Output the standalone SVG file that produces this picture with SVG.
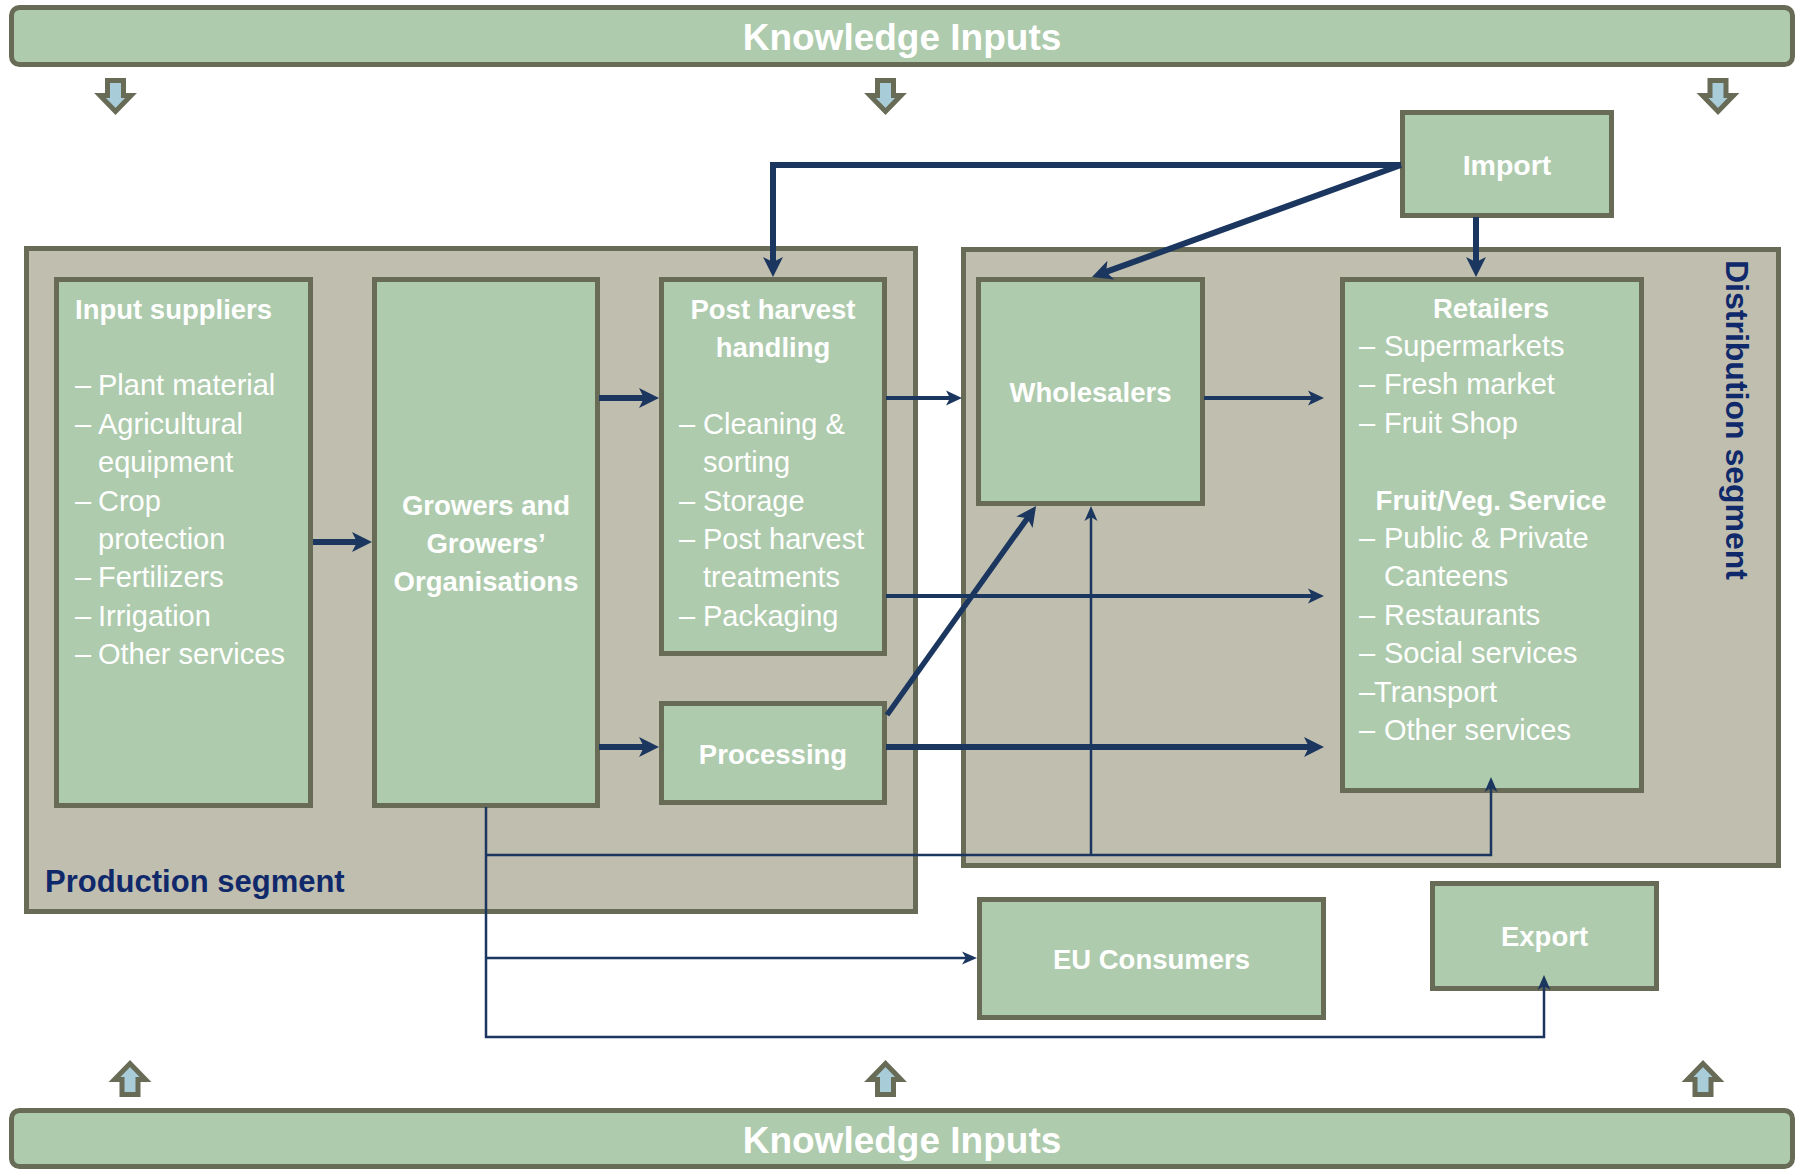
<svg xmlns="http://www.w3.org/2000/svg" width="1803" height="1169" viewBox="0 0 1803 1169">
  <style>
    .bar { fill:#aecbad; stroke:#686b55; stroke-width:5; }
    .seg { fill:#c0beae; stroke:#686b55; stroke-width:5; }
    .box { fill:#aecbad; stroke:#686b55; stroke-width:5; }
    .ka { fill:#a9cdd8; stroke:#686b55; stroke-width:5; stroke-linejoin:miter; }
    .t { font-family:"Liberation Sans", Arial, sans-serif; fill:#ffffff; }
    .b { font-weight:bold; font-size:27.5px; }
    .r { font-size:29px; }
    .c { text-anchor:middle; }
    .kt { font-family:"Liberation Sans", Arial, sans-serif; fill:#ffffff; font-weight:bold; font-size:37px; text-anchor:middle; }
    .lbl { font-family:"Liberation Sans", Arial, sans-serif; font-weight:bold; fill:#10296b; }
    .ln { fill:none; stroke:#1b365f; stroke-linejoin:miter; }
    .th { stroke-width:6; }
    .md { stroke-width:4; }
    .tn { stroke-width:2.5; }
    .ah { fill:#1b365f; }
  </style>
  <defs>
    <marker id="mL" markerUnits="userSpaceOnUse" orient="auto" overflow="visible" refX="0" refY="0" markerWidth="1" markerHeight="1">
      <path class="ah" d="M12,0 L-8,-10 L-3,0 L-8,10 Z"/>
    </marker>
    <marker id="mM" markerUnits="userSpaceOnUse" orient="auto" overflow="visible" refX="0" refY="0" markerWidth="1" markerHeight="1">
      <path class="ah" d="M10,0 L-6,-7.5 L-2,0 L-6,7.5 Z"/>
    </marker>
    <marker id="mS" markerUnits="userSpaceOnUse" orient="auto" overflow="visible" refX="0" refY="0" markerWidth="1" markerHeight="1">
      <path class="ah" d="M8,0 L-7,-6.5 L-3,0 L-7,6.5 Z"/>
    </marker>
    <path id="karrow" class="ka" d="M-8,0 H8 V15 H15.5 L0,31 L-15.5,15 H-8 Z"/>
  </defs>

  <rect width="1803" height="1169" fill="#ffffff"/>

  <!-- Knowledge input bars -->
  <g id="knowledge-top">
    <rect class="bar" x="11.5" y="7.5" width="1781" height="57" rx="8"/>
    <text class="kt" x="902" y="50">Knowledge Inputs</text>
  </g>
  <g id="knowledge-bottom">
    <rect class="bar" x="11.5" y="1110.5" width="1781" height="56" rx="8"/>
    <text class="kt" x="902" y="1153">Knowledge Inputs</text>
  </g>

  <!-- Knowledge arrows -->
  <g id="knowledge-arrows">
    <use href="#karrow" transform="translate(115.5,80.5)"/>
    <use href="#karrow" transform="translate(885.5,80.5)"/>
    <use href="#karrow" transform="translate(1718,80.5)"/>
    <use href="#karrow" transform="translate(130,1094.5) scale(1,-1)"/>
    <use href="#karrow" transform="translate(885.5,1094.5) scale(1,-1)"/>
    <use href="#karrow" transform="translate(1703,1094.5) scale(1,-1)"/>
  </g>

  <!-- Segments -->
  <g id="production-segment">
    <rect class="seg" x="26.5" y="248.5" width="889" height="663"/>
    <text class="lbl" x="45" y="892" font-size="31">Production segment</text>
  </g>
  <g id="distribution-segment">
    <rect class="seg" x="963.5" y="249.5" width="815" height="616"/>
    <text class="lbl" font-size="32" transform="translate(1726,260) rotate(90)">Distribution segment</text>
  </g>

  <!-- Nodes -->
  <g id="input-suppliers">
    <rect class="box" x="56.5" y="279.5" width="254" height="526"/>
    <text class="t b" x="75" y="318.5">Input suppliers</text>
    <g class="t r">
      <text x="75" y="395">–</text><text x="98" y="395">Plant material</text>
      <text x="75" y="433.5">–</text><text x="98" y="433.5">Agricultural</text>
      <text x="98" y="472">equipment</text>
      <text x="75" y="510.5">–</text><text x="98" y="510.5">Crop</text>
      <text x="98" y="549">protection</text>
      <text x="75" y="587">–</text><text x="98" y="587">Fertilizers</text>
      <text x="75" y="626">–</text><text x="98" y="626">Irrigation</text>
      <text x="75" y="664">–</text><text x="98" y="664">Other services</text>
    </g>
  </g>

  <g id="growers">
    <rect class="box" x="374.5" y="279.5" width="223" height="526"/>
    <g class="t b c">
      <text x="486" y="515">Growers and</text>
      <text x="486" y="553">Growers’</text>
      <text x="486" y="591">Organisations</text>
    </g>
  </g>

  <g id="post-harvest">
    <rect class="box" x="661.5" y="279.5" width="223" height="374"/>
    <g class="t b c">
      <text x="773" y="318.5">Post harvest</text>
      <text x="773" y="357">handling</text>
    </g>
    <g class="t r">
      <text x="679" y="433.5">–</text><text x="703" y="433.5">Cleaning &amp;</text>
      <text x="703" y="472">sorting</text>
      <text x="679" y="510.5">–</text><text x="703" y="510.5">Storage</text>
      <text x="679" y="549">–</text><text x="703" y="549">Post harvest</text>
      <text x="703" y="587">treatments</text>
      <text x="679" y="626">–</text><text x="703" y="626">Packaging</text>
    </g>
  </g>

  <g id="processing">
    <rect class="box" x="661.5" y="703.5" width="223" height="99"/>
    <text class="t b c" x="773" y="764">Processing</text>
  </g>

  <g id="wholesalers">
    <rect class="box" x="978.5" y="279.5" width="224" height="224"/>
    <text class="t b c" x="1090.5" y="402">Wholesalers</text>
  </g>

  <g id="retailers">
    <rect class="box" x="1342.5" y="279.5" width="299" height="511"/>
    <g class="t b c">
      <text x="1491" y="317.5">Retailers</text>
      <text x="1491" y="509.5">Fruit/Veg. Service</text>
    </g>
    <g class="t r">
      <text x="1359" y="356">–</text><text x="1384" y="356">Supermarkets</text>
      <text x="1359" y="394">–</text><text x="1384" y="394">Fresh market</text>
      <text x="1359" y="432.5">–</text><text x="1384" y="432.5">Fruit Shop</text>
      <text x="1359" y="548">–</text><text x="1384" y="548">Public &amp; Private</text>
      <text x="1384" y="586">Canteens</text>
      <text x="1359" y="625">–</text><text x="1384" y="625">Restaurants</text>
      <text x="1359" y="663">–</text><text x="1384" y="663">Social services</text>
      <text x="1359" y="701.5">–</text><text x="1374" y="701.5">Transport</text>
      <text x="1359" y="740">–</text><text x="1384" y="740">Other services</text>
    </g>
  </g>

  <g id="import">
    <rect class="box" x="1402.5" y="112.5" width="209" height="103"/>
    <text class="t c" x="1507" y="175" font-weight="bold" font-size="28.5">Import</text>
  </g>

  <g id="eu-consumers">
    <rect class="box" x="979.5" y="899.5" width="344" height="118"/>
    <text class="t b c" x="1151.5" y="969">EU Consumers</text>
  </g>

  <g id="export">
    <rect class="box" x="1432.5" y="883.5" width="224" height="105"/>
    <text class="t b c" x="1544.5" y="946">Export</text>
  </g>

  <!-- Connectors -->
  <g id="connectors">
    <path class="ln th" d="M313,542 H360" marker-end="url(#mL)"/>
    <path class="ln th" d="M599,398 H647" marker-end="url(#mL)"/>
    <path class="ln th" d="M599,747 H647" marker-end="url(#mL)"/>
    <path class="ln th" d="M886,747 H1312" marker-end="url(#mL)"/>
    <path class="ln" stroke-width="5.5" d="M887,715 L1029.1,515.8" marker-end="url(#mL)"/>
    <path class="ln th" d="M1401,165 H773 V265" marker-end="url(#mL)"/>
    <path class="ln th" d="M1401,165 L1103.3,272.9" marker-end="url(#mL)"/>
    <path class="ln th" d="M1476,217 V265" marker-end="url(#mL)"/>

    <path class="ln md" d="M886,398 H952" marker-end="url(#mM)"/>
    <path class="ln md" d="M886,596 H1314" marker-end="url(#mM)"/>
    <path class="ln md" d="M1204,398 H1314" marker-end="url(#mM)"/>

    <path class="ln tn" d="M486,807 V1037 H1544 V983" marker-end="url(#mS)"/>
    <path class="ln tn" d="M486,855 H1491 V785" marker-end="url(#mS)"/>
    <path class="ln tn" d="M1091,855 V514" marker-end="url(#mS)"/>
    <path class="ln tn" d="M486,958 H969" marker-end="url(#mS)"/>
  </g>
</svg>
